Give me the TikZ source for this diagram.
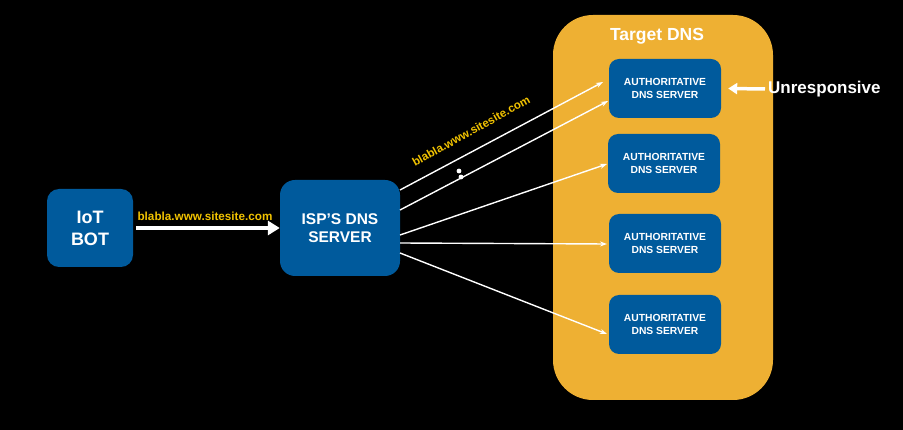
\documentclass[tikz,border=0pt]{standalone}
\usepackage{fontspec}
\setmainfont{Liberation Sans}
\usetikzlibrary{arrows.meta}
\definecolor{bluebox}{HTML}{005A9C}
\definecolor{orangebox}{HTML}{EEB033}
\definecolor{labelyellow}{HTML}{F2C300}
\begin{document}
\begin{tikzpicture}[x=1pt,y=-1pt,
  bluenode/.style={fill=bluebox,draw=none,text=white,font=\bfseries,align=center,inner sep=0pt},
  authbox/.style={bluenode,rounded corners=10pt,minimum width=112pt,minimum height=59pt,font=\bfseries\fontsize{10.3}{12.5}\selectfont},
  thinarrow/.style={draw=white,line width=1.4pt,-{Stealth[length=7pt,width=5pt]}},
  thickarrow/.style={draw=white,line width=4.5pt,-{Triangle[length=12pt,width=14pt]}},
  sidearrow/.style={draw=white,line width=3.5pt,-{Triangle[length=9pt,width=11pt]}}]
\fill[black] (0,0) rectangle (903,430);
\useasboundingbox (0,0) rectangle (903,430);
% target DNS container
\node[fill=orangebox,rounded corners=40pt,minimum width=220pt,minimum height=385pt,inner sep=0pt] (target) at (663,207.5) {};
\node[text=white,font=\bfseries\fontsize{17.5}{20}\selectfont] (title) at (657,36) {Target DNS};
% authoritative servers
\node[authbox] (a1) at (665,88.5) {AUTHORITATIVE\\DNS SERVER};
\node[authbox] (a2) at (664,163.5) {AUTHORITATIVE\\DNS SERVER};
\node[authbox] (a3) at (665,243.5) {AUTHORITATIVE\\DNS SERVER};
\node[authbox] (a4) at (665,324.5) {AUTHORITATIVE\\DNS SERVER};
% IoT bot and ISP
\node[bluenode,rounded corners=12pt,minimum width=86pt,minimum height=78pt,font=\bfseries\fontsize{18}{22}\selectfont] (iot) at (90,228) {IoT\\BOT};
\node[bluenode,rounded corners=15pt,minimum width=120pt,minimum height=96pt,font=\bfseries\fontsize{15.5}{18.5}\selectfont] (isp) at (340,228) {ISP’S DNS\\SERVER};
% unresponsive
\node[text=white,font=\bfseries\fontsize{17}{20}\selectfont,anchor=west,inner sep=0pt] (unr) at (768,89) {Unresponsive};
\coordinate (unrtail) at (765,89);
\draw[sidearrow] (unrtail) -- ([xshift=7pt]a1.east);
% main arrow
\coordinate (iotout) at (136,228);
\draw[thickarrow] (iotout) -- (isp.west);
\node[text=labelyellow,font=\bfseries\fontsize{11.7}{14}\selectfont] (lbl1) at (205,216) {blabla.www.sitesite.com};
% fan-out connectors
\coordinate (s1) at (400,190);
\coordinate (s2) at (400,210);
\coordinate (s3) at (400,235);
\coordinate (s4) at (400,243);
\coordinate (s5) at (400,253);
\coordinate (e1) at (603,82);
\coordinate (e2) at (608,101);
\coordinate (e3) at (607,164);
\coordinate (e4) at (607,244);
\coordinate (e5) at (607,334);
\draw[thinarrow] (s1) -- (e1);
\draw[thinarrow] (s2) -- (e2);
\draw[thinarrow] (s3) -- (e3);
\draw[thinarrow] (s4) -- (e4);
\draw[thinarrow] (s5) -- (e5);
\node[text=labelyellow,font=\bfseries\fontsize{11.5}{14}\selectfont,rotate=29] (lbl2) at (471,131) {blabla.www.sitesite.com};
\fill[white] (459,171) circle (2.4pt) coordinate (d1);
\fill[white] (461,177) circle (2.4pt) coordinate (d2);
\end{tikzpicture}
\end{document}
